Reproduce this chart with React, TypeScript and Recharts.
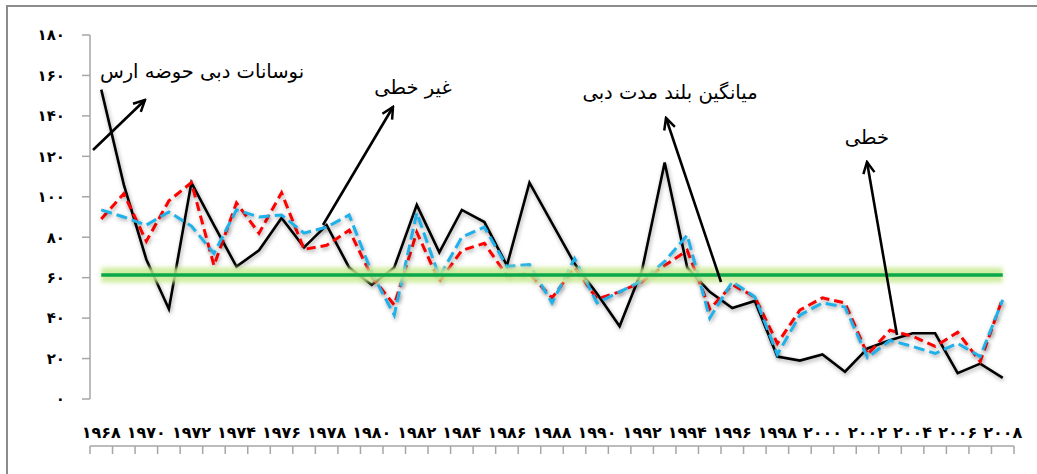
import React from 'react';
import { LineChart, Line, XAxis, YAxis } from 'recharts';

// ---- data ----
const years = [
  1968, 1969, 1970, 1971, 1972, 1973, 1974, 1975, 1976, 1977,
  1978, 1979, 1980, 1981, 1982, 1983, 1984, 1985, 1986, 1987,
  1988, 1989, 1990, 1991, 1992, 1993, 1994, 1995, 1996, 1997,
  1998, 1999, 2000, 2001, 2002, 2003, 2004, 2005, 2006, 2007, 2008,
];

// observed discharge (black)
const observed = [
  153, 106, 69, 44.5, 107, 86, 65.5, 73.5, 89.5, 75,
  86, 65, 56.5, 65, 96, 72.5, 93.5, 87.5, 66, 107,
  87, 67, 52, 36, 64, 117, 65, 53, 45, 48.5,
  21, 19, 22, 13.5, 25, 29, 32.5, 32.5, 12.8, 17.5, 10.4,
];

// non-linear model (red dashed)
const nonLinear = [
  89, 101.5, 78, 98, 107, 66, 97, 82, 102, 74,
  76, 83.5, 60.5, 46.5, 82.5, 58, 73.5, 77, 61, 62,
  50, 65, 49.5, 53, 58, 66, 73.5, 44.5, 56.5, 50.5,
  27.5, 44, 50, 47.5, 22, 34, 31, 26, 33, 18.5, 50,
];

// linear model (blue dashed)
const linear = [
  93.5, 90, 86, 92.5, 85.5, 72, 93.5, 90, 91, 82,
  85, 91, 62.5, 41.5, 92, 60.5, 80, 85, 65.5, 66.5,
  47.5, 69.5, 47.5, 53, 58.5, 68, 81, 40, 58, 50.5,
  22, 41.5, 47.5, 45.5, 20.5, 29, 26, 22.5, 27.5, 21, 49,
];

const longTermMean = 61.3;

const yTicks = [0, 20, 40, 60, 80, 100, 120, 140, 160, 180];
const yearLabelTicks = [
  1968, 1970, 1972, 1974, 1976, 1978, 1980, 1982, 1984, 1986, 1988,
  1990, 1992, 1994, 1996, 1998, 2000, 2002, 2004, 2006, 2008,
];

const labels = {
  basin: 'نوسانات دبی حوضه ارس',
  nonLinear: 'غیر خطی',
  mean: 'میانگین بلند مدت دبی',
  linear: 'خطی',
};

// ---- helpers ----
const faDigits = ['۰', '۱', '۲', '۳', '۴', '۵', '۶', '۷', '۸', '۹'];
const toFa = (v: number | string) =>
  String(v).replace(/[0-9]/g, (d) => faDigits[Number(d)]);

const data = years.map((year, i) => ({
  year,
  observed: observed[i],
  nonLinear: nonLinear[i],
  linear: linear[i],
  mean: longTermMean,
}));

const firstYear = years[0];
const lastYear = years[years.length - 1];
const boundaryTicks = [...years.map((y) => y - 0.5), lastYear + 0.5];

const xTickFont = {
  fontFamily: '"DejaVu Sans", sans-serif',
  fontSize: 16,
  fontWeight: 700,
  fill: '#000',
};

const yTickFont = {
  fontFamily: '"DejaVu Sans", sans-serif',
  fontSize: 15,
  fontWeight: 700,
  fill: '#000',
};

const axisGray = '#a6a6a6';

const Arrow = ({ x1, y1, x2, y2 }: { x1: number; y1: number; x2: number; y2: number }) => (
  <line
    x1={x1}
    y1={y1}
    x2={x2}
    y2={y2}
    stroke="#000"
    strokeWidth={2.6}
    markerEnd="url(#openArrow)"
  />
);

const annoText = {
  fontFamily: '"DejaVu Sans", sans-serif',
  fontSize: 19.5,
  fill: '#000',
};

export default function App() {
  return (
    <div
      style={{
        position: 'absolute',
        left: 0,
        top: 0,
        width: 1037,
        height: 474,
        background: '#fff',
        overflow: 'hidden',
      }}
    >
      <style>{`
        .shadowed { filter: drop-shadow(1px 2px 2px rgba(0,0,0,0.35)); }
        .halo { filter: blur(2px); }
      `}</style>
      <div
        style={{
          position: 'absolute',
          left: 6,
          top: 5,
          width: 1200,
          height: 800,
          borderLeft: '2px solid #8c8c8c',
          borderTop: '2px solid #8c8c8c',
        }}
      />
      <div style={{ position: 'absolute', left: 0, top: 0 }}>
        <LineChart
          width={1037}
          height={474}
          data={data}
          margin={{ top: 35, right: 23, left: 30, bottom: 20 }}
        >
          <XAxis
            xAxisId="m"
            type="number"
            dataKey="year"
            domain={[firstYear - 0.5, lastYear + 0.5]}
            ticks={boundaryTicks}
            interval={0}
            tickFormatter={() => ''}
            tickSize={8}
            height={8}
            stroke={axisGray}
            strokeWidth={1.5}
            allowDecimals
          />
          <XAxis
            xAxisId="l"
            type="number"
            dataKey="year"
            domain={[firstYear - 0.5, lastYear + 0.5]}
            ticks={yearLabelTicks}
            interval={0}
            tickFormatter={(v: number) => toFa(v)}
            axisLine={false}
            tickLine={false}
            tickSize={0}
            tickMargin={28}
            height={47}
            tick={xTickFont}
          />
          <YAxis
            type="number"
            domain={[0, 180]}
            ticks={yTicks}
            interval={0}
            width={60}
            tickSize={8}
            tickMargin={17}
            stroke={axisGray}
            strokeWidth={1.5}
            tickFormatter={(v: number) => toFa(v)}
            tick={yTickFont}
          />
          <Line
            xAxisId="m"
            type="linear"
            dataKey="observed"
            stroke="#000"
            strokeWidth={2.6}
            dot={false}
            activeDot={false}
            className="shadowed"
            isAnimationActive={false}
          />
          <Line
            xAxisId="m"
            type="linear"
            dataKey="nonLinear"
            stroke="#ff0000"
            strokeWidth={3}
            strokeDasharray="9 5"
            dot={false}
            activeDot={false}
            className="shadowed"
            isAnimationActive={false}
          />
          <Line
            xAxisId="m"
            type="linear"
            dataKey="linear"
            stroke="#1fb1ea"
            strokeWidth={3}
            strokeDasharray="11 5"
            dot={false}
            activeDot={false}
            className="shadowed"
            isAnimationActive={false}
          />
          <Line
            xAxisId="l"
            type="linear"
            dataKey="mean"
            stroke="#c8e990"
            strokeWidth={15}
            strokeOpacity={0.85}
            dot={false}
            activeDot={false}
            className="halo"
            isAnimationActive={false}
          />
          <Line
            xAxisId="m"
            type="linear"
            dataKey="mean"
            stroke="#0aa84a"
            strokeWidth={3.5}
            dot={false}
            activeDot={false}
            isAnimationActive={false}
          />
        </LineChart>
      </div>
      <svg
        width={1037}
        height={474}
        style={{ position: 'absolute', left: 0, top: 0, pointerEvents: 'none' }}
      >
        <defs>
          <marker
            id="openArrow"
            viewBox="0 0 12 12"
            refX={10.5}
            refY={6}
            markerWidth={15}
            markerHeight={15}
            markerUnits="userSpaceOnUse"
            orient="auto"
          >
            <path d="M1.5,1.5 L10.5,6 L1.5,10.5" fill="none" stroke="#000" strokeWidth={2} />
          </marker>
        </defs>
        <Arrow x1={93} y1={150} x2={145} y2={100} />
        <Arrow x1={323} y1={225} x2={393} y2={107} />
        <Arrow x1={721} y1={282} x2={666} y2={118} />
        <Arrow x1={897} y1={335} x2={867} y2={162} />
        <text x={202} y={72} textAnchor="middle" dominantBaseline="middle" direction="rtl" style={annoText}>
          {labels.basin}
        </text>
        <text x={413} y={88} textAnchor="middle" dominantBaseline="middle" direction="rtl" style={annoText}>
          {labels.nonLinear}
        </text>
        <text x={670} y={93} textAnchor="middle" dominantBaseline="middle" direction="rtl" style={annoText}>
          {labels.mean}
        </text>
        <text x={867} y={138} textAnchor="middle" dominantBaseline="middle" direction="rtl" style={annoText}>
          {labels.linear}
        </text>
      </svg>
    </div>
  );
}
